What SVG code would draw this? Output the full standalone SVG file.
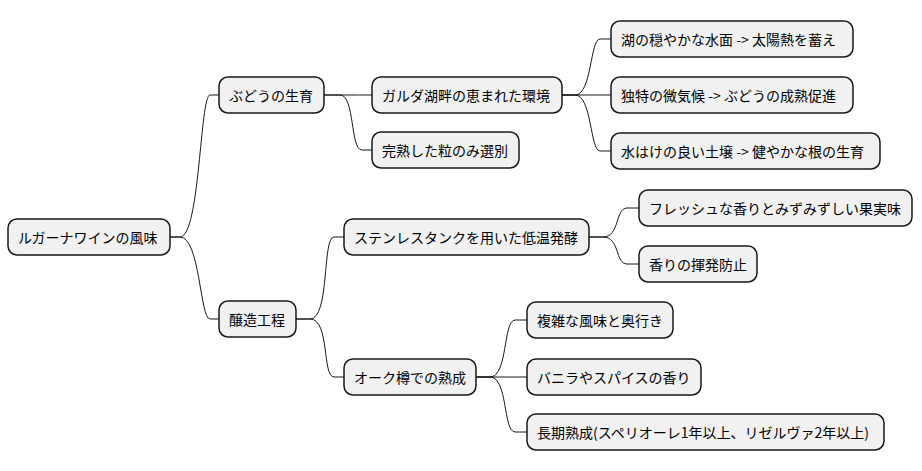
<svg xmlns="http://www.w3.org/2000/svg" width="922" height="471" viewBox="0 0 922 471">
<style>
.n rect{fill:#f1f1f1;stroke:#181818;stroke-width:1.5}
.n text{font-family:"Noto Sans CJK JP","Noto Sans",sans-serif;font-size:14px;fill:#000;dominant-baseline:central}
#c path{fill:none;stroke:#181818;stroke-width:1}
</style>
<rect width="922" height="471" fill="#fff"/>
<g id="c">
<path d="M170,237 L180,237 C200,237 200,95 210,95 L219,95"/>
<path d="M170,237 L180,237 C200,237 200,319 210,319 L219,319"/>
<path d="M324,95 L340,95 C355,95 355,95 362,95 L372,95"/>
<path d="M324,95 L340,95 C355,95 350,150 362,150 L372,150"/>
<path d="M562,95 L575,95 C592,95 590,39 600,39 L611,39"/>
<path d="M562,95 L611,95"/>
<path d="M562,95 L575,95 C592,95 590,151 600,151 L611,151"/>
<path d="M296,319 L310,319 C330,319 322,237 334,237 L344,237"/>
<path d="M296,319 L310,319 C330,319 322,377 334,377 L344,377"/>
<path d="M589,237 L603,237 C620,237 615,208 627,208 L639,208"/>
<path d="M589,237 L603,237 C620,237 615,264 627,264 L639,264"/>
<path d="M476,377 L490,377 C508,377 503,320 515,320 L527,320"/>
<path d="M476,377 L527,377"/>
<path d="M476,377 L490,377 C508,377 503,432 515,432 L527,432"/>
</g>
<g id="root" class="n"><rect x="8" y="219" width="162" height="36" rx="9"/><text x="18" y="237">ルガーナワインの風味</text></g>
<g id="n1" class="n"><rect x="219" y="77" width="105" height="36" rx="9"/><text x="229" y="95">ぶどうの生育</text></g>
<g id="n2" class="n"><rect x="372" y="77" width="190" height="36" rx="9"/><text x="382" y="95">ガルダ湖畔の恵まれた環境</text></g>
<g id="n3" class="n"><rect x="372" y="132" width="147" height="36" rx="9"/><text x="382" y="150">完熟した粒のみ選別</text></g>
<g id="n4" class="n"><rect x="611" y="21" width="242" height="36" rx="9"/><text x="621" y="39">湖の穏やかな水面 -&gt; 太陽熱を蓄え</text></g>
<g id="n5" class="n"><rect x="611" y="77" width="242" height="36" rx="9"/><text x="621" y="95">独特の微気候 -&gt; ぶどうの成熟促進</text></g>
<g id="n6" class="n"><rect x="611" y="133" width="269" height="36" rx="9"/><text x="621" y="151">水はけの良い土壌 -&gt; 健やかな根の生育</text></g>
<g id="n7" class="n"><rect x="219" y="301" width="77" height="36" rx="9"/><text x="229" y="319">醸造工程</text></g>
<g id="n8" class="n"><rect x="344" y="219" width="245" height="36" rx="9"/><text x="354" y="237">ステンレスタンクを用いた低温発酵</text></g>
<g id="n9" class="n"><rect x="639" y="190" width="273" height="36" rx="9"/><text x="649" y="208">フレッシュな香りとみずみずしい果実味</text></g>
<g id="n10" class="n"><rect x="639" y="246" width="118" height="36" rx="9"/><text x="649" y="264">香りの揮発防止</text></g>
<g id="n11" class="n"><rect x="344" y="359" width="132" height="36" rx="9"/><text x="354" y="377">オーク樽での熟成</text></g>
<g id="n12" class="n"><rect x="527" y="302" width="146" height="36" rx="9"/><text x="537" y="320">複雑な風味と奥行き</text></g>
<g id="n13" class="n"><rect x="527" y="359" width="174" height="36" rx="9"/><text x="537" y="377">バニラやスパイスの香り</text></g>
<g id="n14" class="n"><rect x="527" y="414" width="357" height="36" rx="9"/><text x="537" y="432">長期熟成(スペリオーレ1年以上、リゼルヴァ2年以上)</text></g>
</svg>
